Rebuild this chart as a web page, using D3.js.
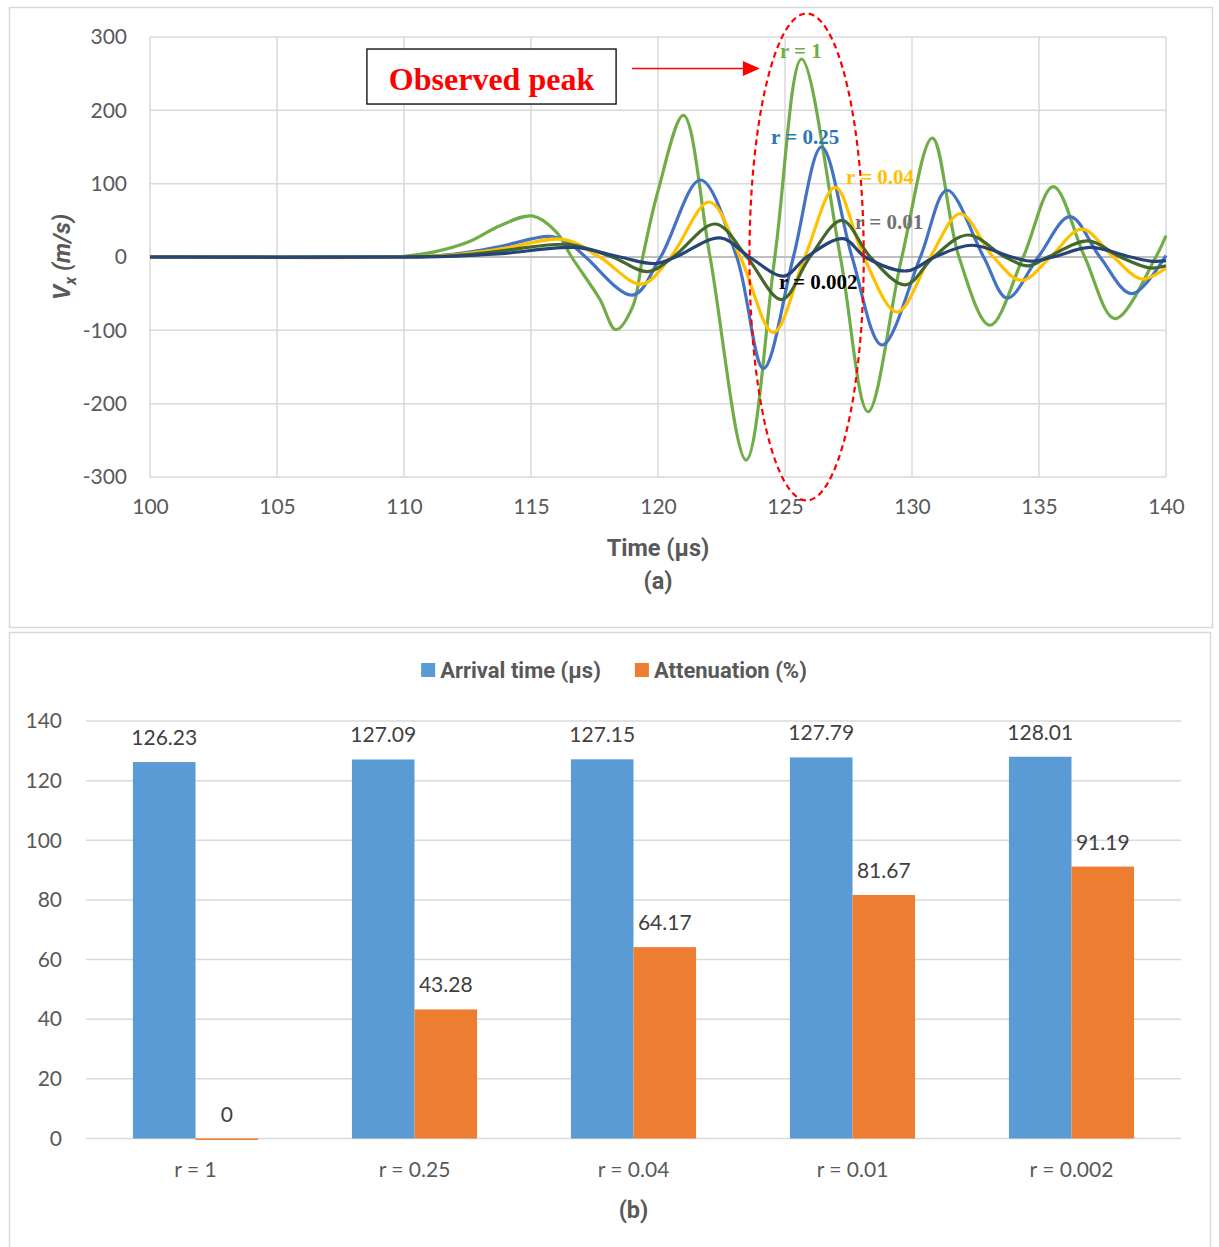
<!DOCTYPE html>
<html>
<head>
<meta charset="utf-8">
<script src="https://cdn.jsdelivr.net/npm/d3@7"></script>
<style>
  body { margin: 0; background: #fff; }
  svg { display: block; }
  text { font-family: Lato, "Open Sans", "Noto Sans", sans-serif; }
  .bold { font-family: Roboto, "Noto Sans", sans-serif; font-weight: 700; }
</style>
</head>
<body>
<svg id="chart" width="1219" height="1247"></svg>
<script>
// ---------------- DATA: panel (a) waveforms, [time (µs), Vx (m/s)] ----------------
const seriesNames = ["r = 1", "r = 0.25", "r = 0.04", "r = 0.01", "r = 0.002"];

const waveR1 = [[100,0],[109,0],[110,1],[111.2,7],[112.5,20],[113.8,43],[115.05,56],[116.0,34],[116.6,0],[117.7,-57],[118.34,-99],[119.0,-68],[119.4,0],[120.0,90],[121.0,193],[122.05,0],[123.47,-277],[124.6,0],[125.65,270],[127.18,0],[128.27,-211],[129.6,0],[130.8,162],[131.85,0],[133.07,-93],[134.38,0],[135.56,96],[136.8,0],[137.99,-84],[139.6,0],[140,29]];
const waveR025 = [[100,0],[110,0],[111,1],[112,4],[113,9],[114,16],[115.75,28],[116.5,19],[117.15,0],[119.0,-52],[120.1,0],[121.67,105],[123.1,0],[124.15,-152],[125.33,0],[126.44,150],[127.64,0],[128.82,-120],[130.33,0],[131.38,91],[132.82,0],[133.75,-56],[134.97,0],[136.22,55],[137.4,0],[138.65,-50],[140,2]];
const waveR004 = [[100,0],[110,0],[112,3],[113,7],[114,12],[116.27,24],[117.7,0],[119.35,-37],[120.5,0],[122.02,75],[123.24,0],[124.54,-103],[125.78,0],[126.98,95],[128.1,0],[129.41,-75],[130.72,0],[131.9,59],[133.2,0],[134.32,-32],[135.45,0],[136.68,38],[137.93,0],[139.04,-30],[140,-15]];
const waveR001 = [[100,0],[110,0],[112,2],[113,5],[114,9],[116.5,17],[118.2,0],[119.6,-20],[120.6,0],[122.26,45],[123.5,0],[124.87,-58],[125.98,0],[127.24,50],[128.36,0],[129.74,-38],[130.85,0],[132.2,30],[133.66,0],[134.58,-12],[135.35,0],[136.94,22],[138.2,0],[139.37,-15],[140,-12]];
const waveR0002 = [[100,0],[110,0],[112,1],[113,3],[114,5],[116.7,13],[118.5,0],[119.9,-9],[120.7,0],[122.45,26],[123.6,0],[124.96,-26],[125.85,0],[127.3,25],[128.16,0],[129.8,-19],[130.9,0],[132.35,16],[133.92,0],[134.7,-5.5],[135.56,0],[137.0,13],[138.6,0],[139.5,-6],[140,-5]];

const waveColors = ["#70ad47", "#4472c4", "#ffc000", "#43682b", "#264478"];
const labelColors = ["#70ad47", "#2e75b6", "#ffc000", "#767171", "#000000"];
// label anchor positions in data units [time, Vx]
const labelTimes = [124.80, 124.45, 127.40, 127.76, 124.76];
const labelVx = [271, 154, 99.5, 38, -44];

const xTicksA = [100, 105, 110, 115, 120, 125, 130, 135, 140];
const yTicksA = [-300, -200, -100, 0, 100, 200, 300];

// ---------------- DATA: panel (b) bars ----------------
const barCategories = ["r = 1", "r = 0.25", "r = 0.04", "r = 0.01", "r = 0.002"];
const barSeries = ["Arrival time (µs)", "Attenuation (%)"];
const arrivalTime = [126.23, 127.09, 127.15, 127.79, 128.01];
const attenuation = [0, 43.28, 64.17, 81.67, 91.19];
const barColors = ["#5b9bd5", "#ed7d31"];
const yTicksB = [0, 20, 40, 60, 80, 100, 120, 140];

// ---------------- DRAW ----------------
const svg = d3.select("#chart");
const gridColor = "#d9d9d9";
const tickColor = "#595959";
const plainFmt = d => String(d);

// panel frames
svg.append("rect").attr("x", 9.5).attr("y", 7.5).attr("width", 1203).attr("height", 620)
  .attr("fill", "none").attr("stroke", gridColor).attr("stroke-width", 1.5);
svg.append("rect").attr("x", 9.5).attr("y", 632.5).attr("width", 1201).attr("height", 640)
  .attr("fill", "none").attr("stroke", gridColor).attr("stroke-width", 1.5);

// ===== Panel (a) =====
const xA = d3.scaleLinear().domain([100, 140]).range([150, 1166]);
const yA = d3.scaleLinear().domain([-300, 300]).range([477, 37]);
const gA = svg.append("g");

// gridlines
gA.append("g").selectAll("line").data(xTicksA).join("line")
  .attr("x1", d => xA(d)).attr("x2", d => xA(d))
  .attr("y1", yA(300)).attr("y2", yA(-300))
  .attr("stroke", gridColor).attr("stroke-width", 1.5);
gA.append("g").selectAll("line").data(yTicksA.filter(d => d !== 0)).join("line")
  .attr("x1", xA(100)).attr("x2", xA(140))
  .attr("y1", d => yA(d)).attr("y2", d => yA(d))
  .attr("stroke", gridColor).attr("stroke-width", 1.5);
gA.append("line")
  .attr("x1", xA(100)).attr("x2", xA(140)).attr("y1", yA(0)).attr("y2", yA(0))
  .attr("stroke", "#bfbfbf").attr("stroke-width", 2);

// axes labels
const axL = gA.append("g").attr("transform", `translate(${xA(100)},0)`)
  .call(d3.axisLeft(yA).tickValues(yTicksA).tickSize(0).tickPadding(23).tickFormat(plainFmt));
axL.select(".domain").remove();
axL.selectAll("text").attr("fill", tickColor).style("font-size", "21px").style("font-family", "Lato");

const axB = gA.append("g").attr("transform", `translate(0,${yA(-300)})`)
  .call(d3.axisBottom(xA).tickValues(xTicksA).tickSize(0).tickPadding(22).tickFormat(plainFmt));
axB.select(".domain").remove();
axB.selectAll("text").attr("fill", tickColor).style("font-size", "21px").style("font-family", "Lato");

// lines
const waves = [waveR1, waveR025, waveR004, waveR001, waveR0002];
const lineGen = d3.line().x(d => xA(d[0])).y(d => yA(d[1])).curve(d3.curveCatmullRom.alpha(0.5));
gA.append("g").selectAll("path").data(waves).join("path")
  .attr("d", d => lineGen(d))
  .attr("fill", "none")
  .attr("stroke", (d, i) => waveColors[i])
  .attr("stroke-width", 3.2)
  .attr("stroke-linejoin", "round");

// ellipse (observed peak)
const ellT = 125.85, ellRT = 2.25, ellRV = 332;
gA.append("ellipse")
  .attr("cx", xA(ellT)).attr("cy", yA(0))
  .attr("rx", xA(ellT + ellRT) - xA(ellT)).attr("ry", yA(0) - yA(ellRV))
  .attr("fill", "none").attr("stroke", "#ff0000").attr("stroke-width", 2.2)
  .attr("stroke-dasharray", "6,4");

// curve labels
gA.append("g").selectAll("text").data(seriesNames).join("text")
  .attr("x", (d, i) => xA(labelTimes[i])).attr("y", (d, i) => yA(labelVx[i]))
  .attr("fill", (d, i) => labelColors[i])
  .style("font-family", "'Liberation Serif', 'Times New Roman', serif")
  .style("font-weight", "bold").style("font-size", "21px")
  .text(d => d);

// Observed peak box + arrow
const boxT0 = 108.54, boxT1 = 118.35, boxV0 = 208.6, boxV1 = 283.6;
gA.append("rect")
  .attr("x", xA(boxT0)).attr("y", yA(boxV1))
  .attr("width", xA(boxT1) - xA(boxT0)).attr("height", yA(boxV0) - yA(boxV1))
  .attr("fill", "#fff").attr("stroke", "#000").attr("stroke-width", 1.3);
gA.append("text")
  .attr("x", (xA(boxT0) + xA(boxT1)) / 2).attr("y", yA(boxV0) - 14)
  .attr("text-anchor", "middle").attr("fill", "#ff0000")
  .style("font-family", "'Liberation Serif', 'Times New Roman', serif")
  .style("font-weight", "bold").style("font-size", "32px")
  .text("Observed peak");
const arrV = 257, arrT0 = 118.98, arrT1 = 124.01;
gA.append("line")
  .attr("x1", xA(arrT0)).attr("x2", xA(arrT1) - 14)
  .attr("y1", yA(arrV)).attr("y2", yA(arrV))
  .attr("stroke", "#ff0000").attr("stroke-width", 1.5);
gA.append("path")
  .attr("d", `M${xA(arrT1)},${yA(arrV)} L${xA(arrT1) - 17},${yA(arrV) - 7.5} L${xA(arrT1) - 17},${yA(arrV) + 7.5} Z`)
  .attr("fill", "#ff0000");

// axis titles
gA.append("text").attr("class", "bold").attr("x", (xA(100) + xA(140)) / 2).attr("y", 556)
  .attr("text-anchor", "middle").attr("fill", tickColor)
  .style("font-size", "23.5px").text("Time (µs)");
gA.append("text").attr("class", "bold").attr("x", (xA(100) + xA(140)) / 2).attr("y", 589)
  .attr("text-anchor", "middle").attr("fill", tickColor)
  .style("font-size", "23.5px").text("(a)");
const yt = gA.append("text").attr("class", "bold").attr("transform", `translate(70,${yA(0)}) rotate(-90)`)
  .attr("text-anchor", "middle").attr("fill", tickColor)
  .style("font-style", "italic").style("font-size", "24px");
yt.append("tspan").text("V");
yt.append("tspan").attr("dy", 6).style("font-size", "16px").text("x");
yt.append("tspan").attr("dy", -6).text(" (m/s)");

// ===== Panel (b) =====
const xB = d3.scaleBand().domain(barCategories).range([86, 1181]).paddingInner(0).paddingOuter(0);
const xBi = d3.scaleBand().domain(barSeries).range([0, xB.bandwidth()]).paddingInner(0).paddingOuter(0.75);
const yB = d3.scaleLinear().domain([0, 140]).range([1138.5, 721]);
const gB = svg.append("g");

gB.append("g").selectAll("line").data(yTicksB).join("line")
  .attr("x1", 86).attr("x2", 1181)
  .attr("y1", d => yB(d)).attr("y2", d => yB(d))
  .attr("stroke", gridColor).attr("stroke-width", 1.5);

const ayB = gB.append("g").attr("transform", "translate(86,0)")
  .call(d3.axisLeft(yB).tickValues(yTicksB).tickSize(0).tickPadding(24).tickFormat(plainFmt));
ayB.select(".domain").remove();
ayB.selectAll("text").attr("fill", tickColor).style("font-size", "21px").style("font-family", "Lato");

const axBb = gB.append("g").attr("transform", `translate(0,${yB(0)})`)
  .call(d3.axisBottom(xB).tickSize(0).tickPadding(24));
axBb.select(".domain").remove();
axBb.selectAll("text").attr("fill", tickColor).style("font-size", "21px").style("font-family", "Lato");

const barRows = barCategories.map((c, i) => ({ cat: c, vals: [arrivalTime[i], attenuation[i]] }));
const groups = gB.append("g").selectAll("g").data(barRows).join("g")
  .attr("transform", d => `translate(${xB(d.cat)},0)`);
groups.selectAll("rect").data(d => d.vals.map((v, j) => ({ s: barSeries[j], v, j }))).join("rect")
  .attr("x", d => xBi(d.s)).attr("width", xBi.bandwidth())
  .attr("y", d => yB(d.v)).attr("height", d => Math.max(1.5, yB(0) - yB(d.v)))
  .attr("fill", d => barColors[d.j]);
groups.selectAll("text").data(d => d.vals.map((v, j) => ({ s: barSeries[j], v, j }))).join("text")
  .attr("x", d => xBi(d.s) + xBi.bandwidth() / 2)
  .attr("y", d => yB(d.v) - 17)
  .attr("text-anchor", "middle").attr("fill", "#404040")
  .style("font-size", "21px")
  .text(d => d.v);

gB.append("text").attr("class", "bold").attr("x", (86 + 1181) / 2).attr("y", 1218)
  .attr("text-anchor", "middle").attr("fill", tickColor)
  .style("font-size", "23.5px").text("(b)");

// legend (centred)
const leg = gB.append("g");
let lx = 0;
barSeries.forEach((s, i) => {
  leg.append("rect").attr("x", lx).attr("y", 663).attr("width", 14).attr("height", 14).attr("fill", barColors[i]);
  const t = leg.append("text").attr("class", "bold").attr("x", lx + 19).attr("y", 678).attr("fill", tickColor)
    .style("font-size", "22px").text(s);
  lx += 19 + t.node().getComputedTextLength() + (i === 0 ? 34 : 0);
});
leg.attr("transform", `translate(${614 - lx / 2},0)`);
</script>
</body>
</html>
